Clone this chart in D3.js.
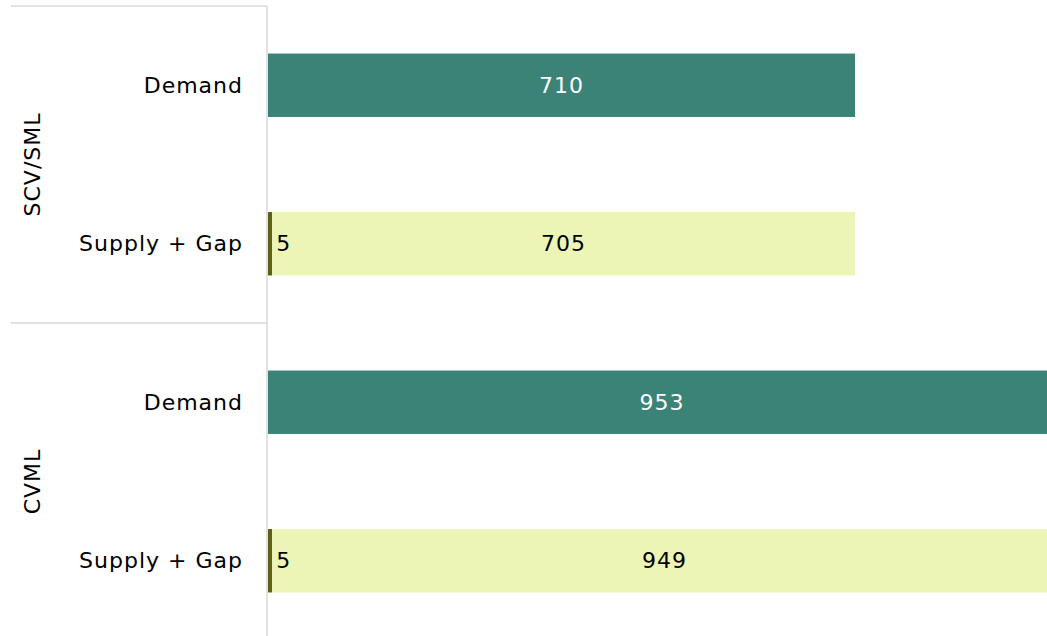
<!DOCTYPE html>
<html>
<head>
<meta charset="utf-8">
<script src="https://cdn.jsdelivr.net/npm/d3@7"></script>
<style>
  body { margin: 0; background: #fff; }
  svg { display: block; font-family: "DejaVu Sans", sans-serif; }
  text.lbl { letter-spacing: 1px; }
</style>
</head>
<body>
<svg></svg>
<script>
const size = {w: 1047, h: 636};
const margin = {t: 6, l: 268};
const fontSize = 22;

// data
const groups = ['SCV/SML', 'CVML'];
const rows = ['Demand', 'Supply + Gap'];
const demand = [710, 953];
const supply = [5, 5];
const gap = [705, 949];

const colors = {demand: '#3b8377', supply: '#5c6113', gap: '#ecf5b5', grid: '#d9d9d9'};

const svg = d3.select('svg')
    .attr('width', size.w)
    .attr('height', size.h);

// one entry per bar row
let bars = [];
groups.forEach((g, i) => {
    bars.push({key: g + '|Demand', group: g, row: rows[0], segs: [{x0: 0, x1: demand[i], c: colors.demand, label: demand[i], fill: '#fff'}]});
    bars.push({key: g + '|Supply', group: g, row: rows[1], segs: [
        {x0: 0, x1: supply[i], c: colors.supply, label: supply[i], fill: '#000', small: true},
        {x0: supply[i], x1: supply[i] + gap[i], c: colors.gap, label: gap[i], fill: '#000'}
    ]});
});

const groupH = 317;
const y = d3.scaleBand()
    .domain(bars.map(d => d.key))
    .range([margin.t, margin.t + groupH * groups.length])
    .paddingInner(0.6)
    .paddingOuter(0.3);

const x = d3.scaleLinear()
    .domain([0, 710])
    .range([margin.l, 855]);

// bars
const barG = svg.append('g').classed('bars', true);
const rowG = barG.selectAll('g')
    .data(bars)
    .join('g')
    .attr('transform', d => `translate(0,${y(d.key)})`);

rowG.selectAll('rect')
    .data(d => d.segs)
    .join('rect')
    .attr('x', d => x(d.x0))
    .attr('width', d => x(d.x1) - x(d.x0))
    .attr('height', y.bandwidth())
    .attr('fill', d => d.c);

rowG.selectAll('text')
    .data(d => d.segs)
    .join('text')
    .classed('lbl', true)
    .attr('x', d => d.small ? x(d.x1) + 4 : (x(d.x0) + x(d.x1)) / 2)
    .attr('y', y.bandwidth() / 2)
    .attr('dy', '0.35em')
    .attr('text-anchor', d => d.small ? 'start' : 'middle')
    .attr('font-size', fontSize)
    .attr('fill', d => d.fill)
    .text(d => d.label);

// axis lines
const axisG = svg.append('g').attr('stroke', colors.grid).attr('stroke-width', 1.5);
axisG.append('line')
    .attr('x1', margin.l - 1).attr('x2', margin.l - 1)
    .attr('y1', margin.t).attr('y2', size.h);
axisG.selectAll('line.sep')
    .data(d3.range(groups.length + 1))
    .join('line')
    .classed('sep', true)
    .attr('x1', 11).attr('x2', margin.l - 1)
    .attr('y1', i => margin.t + i * groupH)
    .attr('y2', i => margin.t + i * groupH);

// row labels
svg.append('g').selectAll('text')
    .data(bars)
    .join('text')
    .classed('lbl', true)
    .attr('x', 243)
    .attr('y', d => y(d.key) + y.bandwidth() / 2)
    .attr('dy', '0.35em')
    .attr('text-anchor', 'end')
    .attr('font-size', fontSize)
    .text(d => d.row);

// group labels
svg.append('g').selectAll('text')
    .data(groups)
    .join('text')
    .classed('lbl', true)
    .attr('transform', (d, i) => `translate(32,${margin.t + (i + 0.5) * groupH}) rotate(-90)`)
    .attr('dy', '0.35em')
    .attr('text-anchor', 'middle')
    .attr('font-size', fontSize)
    .text(d => d);
</script>
</body>
</html>
